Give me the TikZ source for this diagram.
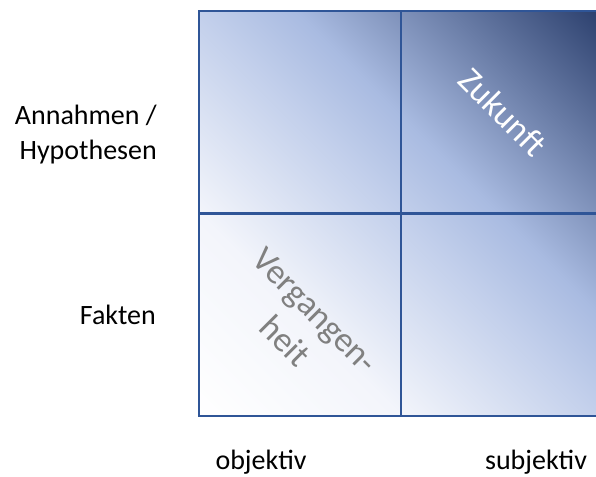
\documentclass[tikz,border=0pt]{standalone}
\usepackage{fontspec}
\setmainfont{Carlito}
\definecolor{dk}{HTML}{2A3E6C}
\definecolor{midblue}{HTML}{A9BBE1}
\definecolor{lightblue}{HTML}{C2CFEB}
\definecolor{nearwhite}{HTML}{F3F5FB}
\definecolor{gridblue}{HTML}{2F5597}
\definecolor{txtgray}{HTML}{808080}
\pgfdeclarehorizontalshading{quadlin}{100bp}{color(0bp)=(white); color(25bp)=(white); color(37.5bp)=(nearwhite); color(50bp)=(lightblue); color(56bp)=(midblue); color(75bp)=(dk); color(100bp)=(dk)}
\tikzset{
  gridline/.style={draw=gridblue, line width=2.5bp},
  axislabel/.style={inner sep=0pt, font=\fontsize{28bp}{34bp}\selectfont, text=black},
  celltext/.style={inner sep=0pt, rotate=-45, align=center, font=\fontsize{35bp}{43bp}\selectfont}
}
\begin{document}
\begin{tikzpicture}[x=1bp,y=1bp]
\useasboundingbox (0,0) rectangle (596,477);
\clip (0,0) rectangle (596,477);
\coordinate (bl) at (199,61);
\coordinate (tr) at (603,466);
\coordinate (tm) at (401,466);
\coordinate (bm) at (401,61);
\coordinate (lm) at (199,263.5);
\coordinate (rm) at (603,263.5);
\begin{scope}
  \clip (bl) rectangle (tr);
  \shade[shading=quadlin, transform canvas={rotate around={45:(401,263.5)}}]
    (115,-22.5) rectangle (687,549.5);
\end{scope}
\draw[gridline] (bl) rectangle (tr);
\draw[gridline] (tm) -- (bm);
\draw[gridline] (lm) -- (rm);

\node[celltext, text=white] (zukunft) at (503,365) {Zukunft};
\node[celltext, text=txtgray] (vergangenheit) at (300,151) {Vergangen-\\heit};

\node[axislabel, anchor=base east] (annahmen) at (157,352) {Annahmen /};
\node[axislabel, anchor=base east] (hypothesen) at (157,317) {Hypothesen};
\node[axislabel, anchor=base east] (fakten) at (156,152) {Fakten};
\node[axislabel, anchor=base] (objektiv) at (261,7) {objektiv};
\node[axislabel, anchor=base] (subjektiv) at (536,7) {subjektiv};
\end{tikzpicture}
\end{document}
